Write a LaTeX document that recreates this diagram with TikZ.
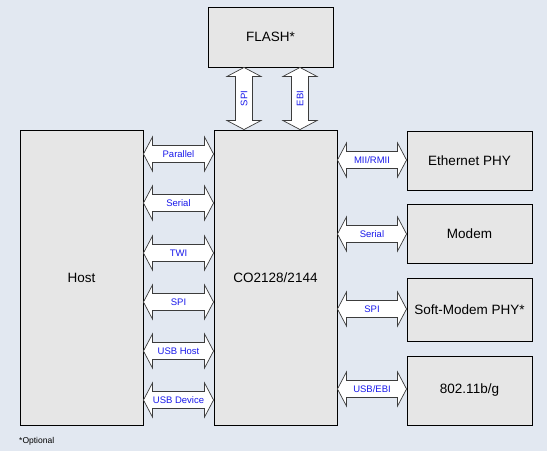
\documentclass[tikz,border=0pt]{standalone}
\usepackage{fontspec}
\setmainfont{Liberation Sans}
\usetikzlibrary{calc}
\definecolor{bgblue}{RGB}{226,232,241}
\definecolor{boxgray}{RGB}{230,230,230}
\definecolor{busgray}{RGB}{60,60,60}
\definecolor{labelblue}{RGB}{25,25,235}
\newcommand{\hbus}[5]{%
  \draw[bus] (#1.east |- 0,#3) -- ++(9,-17) -- ++(0,8.5) -- ($(#2.west |- 0,#3)+(-9,-8.5)$) -- ++(0,-8.5) -- (#2.west |- 0,#3) -- ++(-9,17) -- ++(0,-8.5) -- ($(#1.east |- 0,#3)+(9,8.5)$) -- ++(0,8.5) -- cycle;
  \node[buslabel] (#4) at ($(#1.east |- 0,#3)!0.5!(#2.west |- 0,#3)$) {#5};}
\newcommand{\vbus}[5]{%
  \draw[bus] (#3,0 |- #1.south) -- ++(17,9) -- ++(-8.5,0) -- ($(#3,0 |- #2.north)+(8.5,-9)$) -- ++(8.5,0) -- (#3,0 |- #2.north) -- ++(-17,-9) -- ++(8.5,0) -- ($(#3,0 |- #1.south)+(-8.5,9)$) -- ++(-8.5,0) -- cycle;
  \node[buslabel,rotate=90] (#4) at ($(#3,0 |- #1.south)!0.5!(#3,0 |- #2.north)$) {#5};}
\begin{document}
\begin{tikzpicture}[x=1pt,y=-1pt,
		box/.style={draw=black,line width=0.9pt,fill=boxgray,inner sep=0pt,font=\fontsize{13.5}{16}\selectfont},
		bus/.style={draw=busgray,line width=0.7pt,fill=white,line join=miter},
		buslabel/.style={inner sep=0pt,text=labelblue,font=\fontsize{9.5}{11}\selectfont}]
		\fill[bgblue] (0,0) rectangle (547,451);
		\useasboundingbox (0,0) rectangle (547,451);
		\node[box,minimum width=125,minimum height=60] (flash) at (270.5,37) {FLASH*};
		\node[box,minimum width=123,minimum height=295] (host) at (81.5,277.5) {Host};
		\node[box,minimum width=123,minimum height=295] (co) at (275.5,277.5) {CO2128/2144};
		\node[box,minimum width=125,minimum height=59] (eth) at (469.5,160.5) {Ethernet PHY};
		\node[box,minimum width=125,minimum height=59] (modem) at (469.5,233.5) {Modem};
		\node[box,minimum width=125,minimum height=63] (soft) at (469.5,309.5) {Soft-Modem PHY*};
		\node[box,minimum width=125,minimum height=69] (wifi) at (469.5,390.5) {802.11b/g};
		\vbus{flash}{co}{244}{flashspi}{SPI}
		\vbus{flash}{co}{300}{flashebi}{EBI}
		\hbus{host}{co}{154}{parallel}{Parallel}
		\hbus{host}{co}{203}{hostserial}{Serial}
		\hbus{host}{co}{253}{twi}{TWI}
		\hbus{host}{co}{302}{hostspi}{SPI}
		\hbus{host}{co}{351}{usbhost}{USB Host}
		\hbus{host}{co}{400}{usbdevice}{USB Device}
		\hbus{co}{eth}{160}{mii}{MII/RMII}
		\hbus{co}{modem}{234}{modemserial}{Serial}
		\hbus{co}{soft}{309}{softspi}{SPI}
		\hbus{co}{wifi}{389}{usbebi}{USB/EBI}
		\node[anchor=west,inner sep=0pt,font=\fontsize{8.5}{10}\selectfont] (note) at (19,441) {*Optional};
\end{tikzpicture}
\end{document}
